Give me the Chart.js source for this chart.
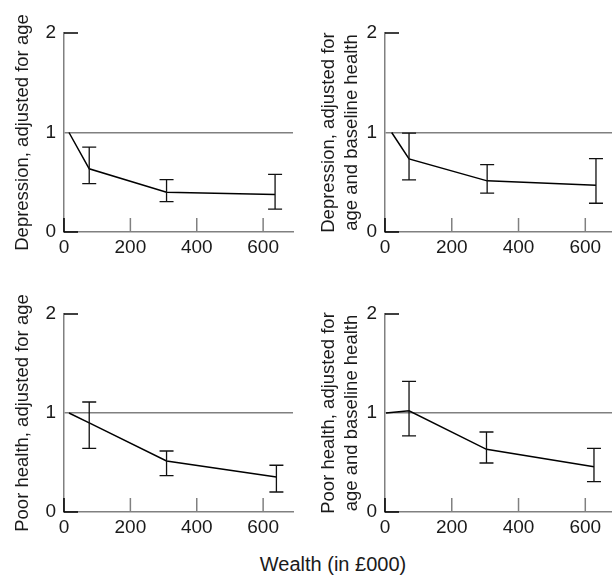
<!DOCTYPE html>
<html>
<head>
<meta charset="utf-8">
<script src="https://cdn.jsdelivr.net/npm/chart.js@4.4.1/dist/chart.umd.min.js"></script>
<style>
  body { margin: 0; background: #fff; width: 612px; height: 578px; position: relative; overflow: hidden;
         font-family: "Liberation Sans", Arial, sans-serif; }
  canvas { position: absolute; }
  #xtitle { position: absolute; left: 213px; width: 240px; top: 553px; text-align: center;
            font-size: 20px; line-height: 22px; color: #1a1a1a; }
</style>
</head>
<body>
<canvas id="c1" width="306" height="270" style="left:0;top:0"></canvas>
<canvas id="c2" width="306" height="270" style="left:306px;top:0"></canvas>
<canvas id="c3" width="306" height="270" style="left:0;top:280px"></canvas>
<canvas id="c4" width="306" height="270" style="left:306px;top:280px"></canvas>
<div id="xtitle">Wealth (in £000)</div>
<script>
// tick values
var xTickVals = [0, 200, 400, 600];
var yTickVals = [0, 1, 2];

// depression, adjusted for age
var depAgeX  = [15, 76, 309, 636];
var depAgeY  = [1, 0.635, 0.40, 0.376];
var depAgeLo = [null, 0.487, 0.305, 0.229];
var depAgeHi = [null, 0.853, 0.527, 0.58];

// depression, adjusted for age and baseline health
var depBaseX  = [20, 72, 306, 632];
var depBaseY  = [1, 0.735, 0.514, 0.47];
var depBaseLo = [null, 0.524, 0.39, 0.289];
var depBaseHi = [null, 0.994, 0.678, 0.738];

// poor health, adjusted for age
var pooAgeX  = [15, 76, 309, 640];
var pooAgeY  = [1, 0.90, 0.515, 0.354];
var pooAgeLo = [null, 0.643, 0.367, 0.202];
var pooAgeHi = [null, 1.111, 0.616, 0.472];

// poor health, adjusted for age and baseline health
var pooBaseX  = [3, 72, 304, 626];
var pooBaseY  = [1, 1.023, 0.633, 0.458];
var pooBaseLo = [null, 0.768, 0.495, 0.306];
var pooBaseHi = [null, 1.32, 0.808, 0.643];

var AXIS_GREY = '#808080';
var INK = '#1a1a1a';

// error bars + inward axis ticks
var panelDeco = {
  id: 'panelDeco',
  afterDraw: function(chart, args, opts) {
    var ctx = chart.ctx, xs = chart.scales.x, ys = chart.scales.y;
    ctx.save();
    // inward ticks
    ctx.lineWidth = 1.5;
    yTickVals.forEach(function(v) {
      if (v === 1) return;
      var py = ys.getPixelForValue(v);
      ctx.strokeStyle = '#000';
      ctx.beginPath(); ctx.moveTo(xs.left, py); ctx.lineTo(xs.left + 14, py); ctx.stroke();
    });
    xTickVals.forEach(function(v) {
      var px = xs.getPixelForValue(v);
      ctx.strokeStyle = v === 0 ? '#000' : AXIS_GREY;
      ctx.beginPath(); ctx.moveTo(px, ys.bottom); ctx.lineTo(px, ys.bottom - 14); ctx.stroke();
    });
    // error bars
    ctx.strokeStyle = '#111';
    ctx.lineWidth = 1.3;
    for (var i = 0; i < opts.xv.length; i++) {
      if (opts.lo[i] == null) continue;
      var px = xs.getPixelForValue(opts.xv[i]);
      var pl = ys.getPixelForValue(opts.lo[i]);
      var ph = ys.getPixelForValue(opts.hi[i]);
      ctx.beginPath();
      ctx.moveTo(px, pl); ctx.lineTo(px, ph);
      ctx.moveTo(px - 7, pl); ctx.lineTo(px + 7, pl);
      ctx.moveTo(px - 7, ph); ctx.lineTo(px + 7, ph);
      ctx.stroke();
    }
    ctx.restore();
  }
};

function makePanel(id, title, xv, yv, lo, hi, yWidth, xMax, padRight, padTop) {
  var pts = xv.map(function(x, i) { return {x: x, y: yv[i]}; });
  return new Chart(document.getElementById(id), {
    type: 'line',
    data: { datasets: [{ data: pts, borderColor: '#000', borderWidth: 1.5, pointRadius: 0, tension: 0, fill: false }] },
    options: {
      responsive: false,
      animation: false,
      layout: { padding: { top: padTop, right: padRight, left: 0, bottom: 0 } },
      plugins: { legend: { display: false }, tooltip: { enabled: false }, panelDeco: { xv: xv, lo: lo, hi: hi } },
      scales: {
        x: {
          type: 'linear', min: 0, max: xMax,
          afterBuildTicks: function(s) { s.ticks = xTickVals.map(function(v) { return {value: v}; }); },
          afterFit: function(s) { s.height = 38; },
          grid: { drawTicks: false, color: 'rgba(0,0,0,0)' },
          border: { display: true, color: AXIS_GREY, width: 1.5 },
          ticks: { padding: 4, color: INK, font: { family: 'Liberation Sans', size: 19 }, maxRotation: 0 }
        },
        y: {
          min: 0, max: 2,
          afterBuildTicks: function(s) { s.ticks = yTickVals.map(function(v) { return {value: v}; }); },
          afterFit: function(s) { s.width = yWidth; },
          grid: { drawTicks: false, lineWidth: 1.5,
                  color: function(c) { return c.tick && c.tick.value === 1 ? AXIS_GREY : 'rgba(0,0,0,0)'; } },
          border: { display: true, color: AXIS_GREY, width: 1.5 },
          ticks: { padding: 8, color: INK, font: { family: 'Liberation Sans', size: 19 } },
          title: { display: true, text: title, color: INK, padding: { top: 12, bottom: 0 },
                   font: { family: 'Liberation Sans', size: 18.5, lineHeight: 1.22 } }
        }
      }
    },
    plugins: [panelDeco]
  });
}

makePanel('c1', 'Depression, adjusted for age', depAgeX, depAgeY, depAgeLo, depAgeHi, 64, 690, 13, 33);
makePanel('c2', ['Depression, adjusted for', 'age and baseline health'], depBaseX, depBaseY, depBaseLo, depBaseHi, 79, 680, 0, 33);
makePanel('c3', 'Poor health, adjusted for age', pooAgeX, pooAgeY, pooAgeLo, pooAgeHi, 64, 690, 13, 34);
makePanel('c4', ['Poor health, adjusted for', 'age and baseline health'], pooBaseX, pooBaseY, pooBaseLo, pooBaseHi, 79, 680, 0, 34);
</script>
</body>
</html>
